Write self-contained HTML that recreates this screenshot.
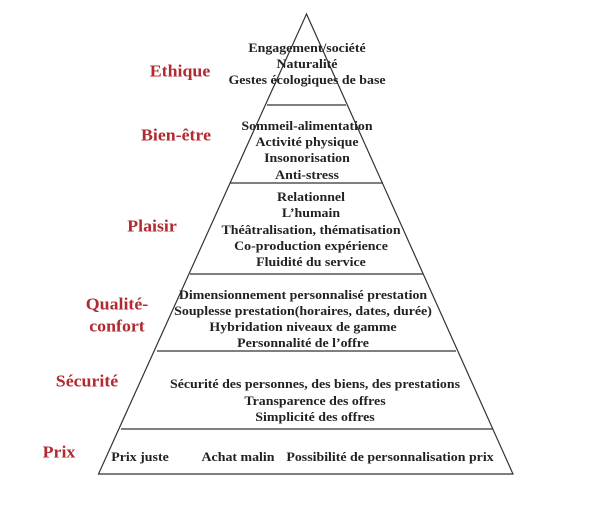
<!DOCTYPE html>
<html><head><meta charset="utf-8"><style>
html,body{margin:0;padding:0;background:#fff;width:600px;height:510px;overflow:hidden;position:relative}
.t{position:absolute;transform:translate(-50%,-50%) scaleX(1.13);white-space:nowrap;font-family:"Liberation Serif",serif;font-weight:bold;font-size:12.3px;color:#222;line-height:1}
.l{position:absolute;transform:translate(-50%,-50%) scaleX(1.05);white-space:nowrap;font-family:"Liberation Serif",serif;font-weight:bold;font-size:17px;color:#b02a30;line-height:1}
svg{position:absolute;left:0;top:0}
</style></head><body>
<svg width="600" height="510">
<g stroke="#333" stroke-width="1.2" fill="none">
<polygon points="306.5,14 98.5,474 513,474"/>
<line x1="267" y1="105" x2="346" y2="105"/>
<line x1="230" y1="183" x2="383" y2="183"/>
<line x1="190" y1="274" x2="423" y2="274"/>
<line x1="157" y1="351" x2="456" y2="351"/>
<line x1="121" y1="429" x2="493" y2="429"/>
</g></svg>
<div class="l" style="left:180px;top:71px">Ethique</div>
<div class="l" style="left:176px;top:135px">Bien-être</div>
<div class="l" style="left:152px;top:226px">Plaisir</div>
<div class="l" style="left:117px;top:304px">Qualité-</div>
<div class="l" style="left:117px;top:326px">confort</div>
<div class="l" style="left:87px;top:381px">Sécurité</div>
<div class="l" style="left:59px;top:452px">Prix</div>

<div class="t" style="left:307px;top:48px">Engagement/société</div>
<div class="t" style="left:307px;top:64px">Naturalité</div>
<div class="t" style="left:307px;top:80px">Gestes écologiques de base</div>

<div class="t" style="left:307px;top:126px">Sommeil-alimentation</div>
<div class="t" style="left:307px;top:142px">Activité physique</div>
<div class="t" style="left:307px;top:158px">Insonorisation</div>
<div class="t" style="left:307px;top:175px">Anti-stress</div>

<div class="t" style="left:311px;top:197px">Relationnel</div>
<div class="t" style="left:311px;top:213px">L’humain</div>
<div class="t" style="left:311px;top:230px">Théâtralisation, thématisation</div>
<div class="t" style="left:311px;top:246px">Co-production expérience</div>
<div class="t" style="left:311px;top:262px">Fluidité du service</div>

<div class="t" style="left:303px;top:295px">Dimensionnement personnalisé prestation</div>
<div class="t" style="left:303px;top:311px">Souplesse prestation(horaires, dates, durée)</div>
<div class="t" style="left:303px;top:327px">Hybridation niveaux de gamme</div>
<div class="t" style="left:303px;top:343px">Personnalité de l’offre</div>

<div class="t" style="left:315px;top:384px">Sécurité des personnes, des biens, des prestations</div>
<div class="t" style="left:315px;top:401px">Transparence des offres</div>
<div class="t" style="left:315px;top:417px">Simplicité des offres</div>

<div class="t" style="left:140px;top:457px">Prix juste</div>
<div class="t" style="left:238px;top:457px">Achat malin</div>
<div class="t" style="left:390px;top:457px">Possibilité de personnalisation prix</div>
</body></html>
